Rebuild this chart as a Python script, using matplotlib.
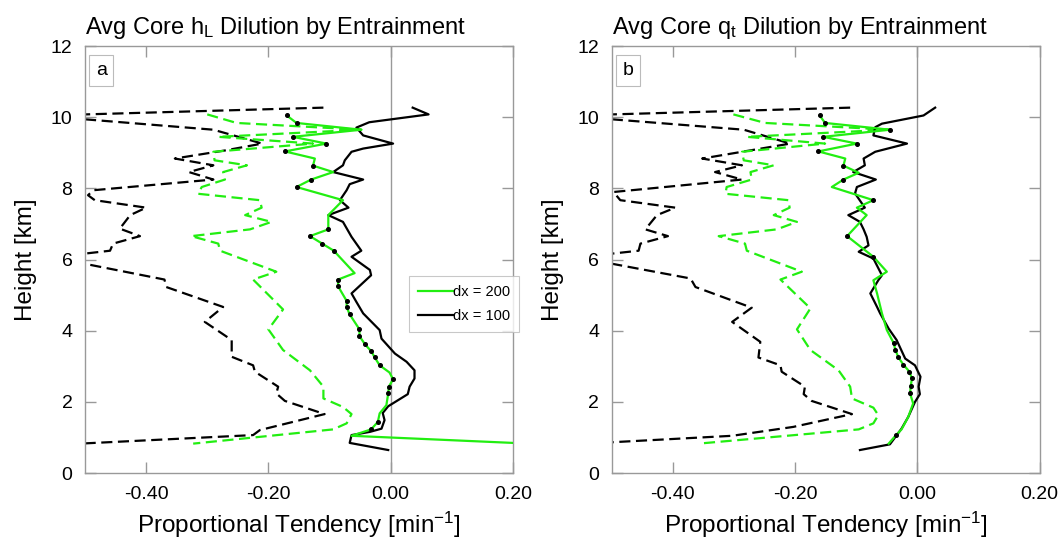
import matplotlib
matplotlib.use('Agg')
import matplotlib.pyplot as plt

plt.rcParams['font.family'] = ['Liberation Sans', 'DejaVu Sans']
plt.rcParams['mathtext.fontset'] = 'custom'
plt.rcParams['mathtext.rm'] = 'Liberation Sans'
plt.rcParams['mathtext.it'] = 'Liberation Sans:italic'

GREEN = '#22ee11'
GREY = '#999999'

# ---- panel a : h_L ----
a_bdash_x = [-0.11, -0.52, -0.52, -0.29, -0.21, -0.27, -0.353, -0.29, -0.33, -0.29, -0.486, -0.495,
             -0.484, -0.40, -0.426, -0.443, -0.41, -0.454, -0.459, -0.52, -0.52, -0.37, -0.367, -0.274,
             -0.304, -0.26, -0.26, -0.225, -0.222, -0.184, -0.187, -0.173, -0.108, -0.214, -0.225, -0.52]
a_bdash_y = [10.27, 10.07, 9.97, 9.65, 9.26, 9.07, 8.84, 8.65, 8.46, 8.25, 7.95, 7.81,
             7.67, 7.46, 7.25, 6.87, 6.66, 6.45, 6.25, 6.13, 5.95, 5.44, 5.23, 4.67,
             4.25, 3.74, 3.27, 3.03, 2.85, 2.43, 2.24, 2.03, 1.66, 1.21, 1.07, 0.82]

a_gdash_x = [-0.30, -0.252, -0.048, -0.282, -0.127, -0.29, -0.288, -0.235, -0.274, -0.271, -0.309,
             -0.315, -0.214, -0.211, -0.238, -0.195, -0.23, -0.326, -0.282, -0.279, -0.187, -0.225,
             -0.176, -0.2, -0.176, -0.132, -0.11, -0.11, -0.078, -0.064, -0.072, -0.094, -0.323]
a_gdash_y = [10.08, 9.84, 9.65, 9.45, 9.26, 9.03, 8.79, 8.65, 8.46, 8.25, 8.04,
             7.85, 7.67, 7.46, 7.25, 7.06, 6.85, 6.66, 6.45, 6.25, 5.66, 5.44,
             4.6, 4.04, 3.46, 2.89, 2.43, 2.1, 1.86, 1.66, 1.40, 1.23, 0.83]

a_gsol_x = [-0.17, -0.154, -0.048, -0.16, -0.105, -0.173, -0.124, -0.127, -0.094, -0.13, -0.154,
            -0.078, -0.102, -0.102, -0.132, -0.112, -0.093, -0.059, -0.086, -0.086, -0.072, -0.072,
            -0.067, -0.051, -0.051, -0.042, -0.032, -0.026, -0.018, -0.002, 0.004, -0.003, -0.004,
            -0.007, -0.018, -0.021, -0.032, -0.064, 0.20]
a_gsol_y = [10.05, 9.84, 9.65, 9.45, 9.26, 9.04, 8.84, 8.64, 8.46, 8.25, 8.04,
            7.67, 7.25, 6.85, 6.66, 6.45, 6.25, 5.62, 5.44, 5.25, 4.84, 4.67,
            4.46, 4.04, 3.85, 3.62, 3.43, 3.25, 3.03, 2.83, 2.64, 2.43, 2.24,
            1.91, 1.68, 1.44, 1.23, 1.05, 0.85]
a_gsol_dot = [1, 1, 0, 1, 1, 1, 0, 1, 0, 1, 1,
              0, 0, 1, 1, 1, 1, 0, 1, 1, 1, 1,
              1, 1, 1, 1, 1, 1, 1, 0, 1, 1, 1,
              0, 0, 1, 1, 0, 0]

a_bsol_x = [0.036, 0.062, -0.035, -0.056, -0.045, 0.004, -0.045, -0.064, -0.075, -0.078, -0.094,
            -0.045, -0.067, -0.072, -0.083, -0.069, -0.102, -0.078, -0.064, -0.048, -0.064, -0.034,
            -0.032, -0.064, -0.056, -0.045, -0.018, -0.015, 0.007, 0.026, 0.039, 0.039, 0.031,
            0.028, -0.004, -0.013, -0.01, -0.015, -0.034, -0.064, -0.067, -0.004]
a_bsol_y = [10.27, 10.08, 9.86, 9.71, 9.49, 9.26, 9.12, 9.03, 8.79, 8.65, 8.46,
            8.25, 8.12, 7.95, 7.67, 7.46, 7.25, 7.06, 6.64, 6.25, 6.08, 5.71,
            5.56, 5.05, 4.81, 4.49, 4.02, 3.78, 3.36, 3.13, 2.89, 2.66, 2.43,
            2.22, 1.88, 1.69, 1.49, 1.25, 1.16, 1.07, 0.85, 0.65]

# ---- panel b : q_t ----
b_bdash_x = [-0.11, -0.52, -0.52, -0.284, -0.208, -0.273, -0.352, -0.287, -0.331, -0.287, -0.497,
             -0.486, -0.396, -0.426, -0.445, -0.408, -0.453, -0.456, -0.52, -0.52, -0.371, -0.363,
             -0.271, -0.303, -0.257, -0.26, -0.224, -0.222, -0.184, -0.186, -0.173, -0.107, -0.203,
             -0.303, -0.52]
b_bdash_y = [10.27, 10.07, 9.97, 9.65, 9.26, 9.07, 8.84, 8.65, 8.46, 8.25, 7.90,
             7.67, 7.46, 7.25, 6.85, 6.66, 6.45, 6.25, 6.13, 5.95, 5.47, 5.23,
             4.65, 4.25, 3.69, 3.25, 3.03, 2.85, 2.43, 2.22, 2.03, 1.66, 1.30,
             1.05, 0.85]

b_gdash_x = [-0.301, -0.249, -0.047, -0.279, -0.151, -0.287, -0.284, -0.235, -0.273, -0.271, -0.312,
             -0.314, -0.211, -0.209, -0.235, -0.197, -0.23, -0.325, -0.282, -0.279, -0.189, -0.224,
             -0.175, -0.197, -0.175, -0.129, -0.11, -0.107, -0.072, -0.064, -0.072, -0.096, -0.358]
b_gdash_y = [10.08, 9.84, 9.65, 9.45, 9.26, 9.03, 8.79, 8.65, 8.46, 8.25, 8.04,
             7.85, 7.67, 7.46, 7.25, 7.06, 6.85, 6.66, 6.45, 6.25, 5.66, 5.44,
             4.63, 4.04, 3.46, 2.89, 2.43, 2.1, 1.84, 1.63, 1.40, 1.23, 0.83]

b_gsol_x = [-0.160, -0.151, -0.045, -0.154, -0.099, -0.162, -0.118, -0.121, -0.096, -0.121, -0.14,
            -0.072, -0.099, -0.083, -0.115, -0.072, -0.050, -0.072, -0.066, -0.058, -0.05,
            -0.039, -0.036, -0.031, -0.023, -0.013, -0.009, -0.011, -0.012, -0.007, -0.015,
            -0.026, -0.035, -0.047]
b_gsol_y = [10.05, 9.84, 9.65, 9.45, 9.26, 9.04, 8.84, 8.64, 8.44, 8.25, 8.04,
            7.67, 7.46, 7.25, 6.66, 6.08, 5.66, 5.42, 5.05, 4.49, 4.02,
            3.66, 3.46, 3.25, 3.05, 2.85, 2.66, 2.44, 2.24, 1.96, 1.58,
            1.23, 1.07, 0.83]
b_gsol_dot = [1, 1, 1, 1, 1, 1, 0, 1, 0, 1, 0,
              1, 0, 0, 1, 1, 0, 0, 0, 0, 0,
              1, 1, 1, 1, 1, 1, 1, 1, 0, 0,
              0, 1, 0]

b_bsol_x = [0.029, 0.01, -0.058, -0.069, -0.072, -0.017, -0.069, -0.088, -0.086, -0.105, -0.068,
            -0.099, -0.102, -0.086, -0.113, -0.094, -0.088, -0.083, -0.080, -0.096, -0.072,
            -0.058, -0.064, -0.077, -0.066, -0.061, -0.047, -0.034, -0.020, -0.004, 0.005,
            0.002, 0.004, -0.004, -0.015, -0.026, -0.045, -0.094]
b_bsol_y = [10.27, 10.05, 9.82, 9.72, 9.49, 9.26, 9.03, 8.84, 8.65, 8.46, 8.25,
            8.04, 7.86, 7.46, 7.25, 7.06, 6.85, 6.64, 6.40, 6.22, 6.03,
            5.56, 5.42, 5.05, 4.67, 4.49, 4.06, 3.74, 3.22, 3.03, 2.71,
            2.43, 2.22, 2.0, 1.58, 1.25, 0.81, 0.65]

titles = ['Avg Core h$_\\mathrm{L}$ Dilution by Entrainment',
          'Avg Core q$_\\mathrm{t}$ Dilution by Entrainment']
panel_tags = ['a', 'b']
xticks = [-0.4, -0.2, 0.0, 0.2]
yticks = [0, 2, 4, 6, 8, 10, 12]
legend_labels = ['dx = 200', 'dx = 100']

panels = [
    (a_bdash_x, a_bdash_y, a_gdash_x, a_gdash_y, a_gsol_x, a_gsol_y, a_gsol_dot, a_bsol_x, a_bsol_y),
    (b_bdash_x, b_bdash_y, b_gdash_x, b_gdash_y, b_gsol_x, b_gsol_y, b_gsol_dot, b_bsol_x, b_bsol_y),
]

fig = plt.figure(figsize=(10.62, 5.42), dpi=100)
axes = [fig.add_axes([0.080, 0.127, 0.403, 0.788]),
        fig.add_axes([0.576, 0.127, 0.403, 0.788])]

for i, ax in enumerate(axes):
    bdx, bdy, gdx, gdy, gsx, gsy, gdot, bsx, bsy = panels[i]

    ax.axvline(0, color=GREY, lw=1.0, zorder=1)
    ax.plot(bdx, bdy, color='black', lw=1.6, dashes=(5, 2.5), zorder=2)
    ax.plot(gdx, gdy, color=GREEN, lw=1.6, dashes=(5, 2.5), zorder=2)
    ax.plot(bsx, bsy, color='black', lw=1.6, zorder=3, label=legend_labels[1])
    ax.plot(gsx, gsy, color=GREEN, lw=1.6, zorder=4, label=legend_labels[0])
    dx = [x for x, d in zip(gsx, gdot) if d]
    dy = [y for y, d in zip(gsy, gdot) if d]
    ax.plot(dx, dy, 'o', color='black', ms=2.6, zorder=5)

    ax.set_xlim(-0.5, 0.2)
    ax.set_ylim(0, 12)
    ax.set_xticks(xticks)
    ax.set_xticklabels(['%.2f' % v for v in xticks])
    ax.set_yticks(yticks)
    ax.tick_params(direction='in', length=8, width=1, color=GREY, labelsize=14,
                   top=True, right=True, pad=9)
    for s in ax.spines.values():
        s.set_color(GREY)
        s.set_linewidth(1.0)

    ax.set_title(titles[i], loc='left', fontsize=17, pad=9)
    ax.set_xlabel('Proportional Tendency [min$^{-1}$]', fontsize=17.5)
    ax.set_ylabel('Height [km]', fontsize=17.5)
    ax.xaxis.set_label_coords(0.5, -0.085)
    ax.yaxis.set_label_coords(-0.112, 0.5)

    ax.text(0.025, 0.962, panel_tags[i], transform=ax.transAxes, fontsize=14,
            ha='left', va='top',
            bbox=dict(boxstyle='square,pad=0.35', fc='white', ec='#bbbbbb', lw=0.8))

    if i == 0:
        h, l = ax.get_legend_handles_labels()
        leg = ax.legend(h[::-1], l[::-1], loc='upper left', bbox_to_anchor=(0.757, 0.461),
                        fontsize=10.5, frameon=True, fancybox=False,
                        handlelength=2.4, handletextpad=0.05, borderpad=0.6, labelspacing=0.7,
                        borderaxespad=0)
        leg.get_frame().set_edgecolor('#bbbbbb')
        leg.get_frame().set_linewidth(0.8)

fig.savefig('out.png', dpi=100)
